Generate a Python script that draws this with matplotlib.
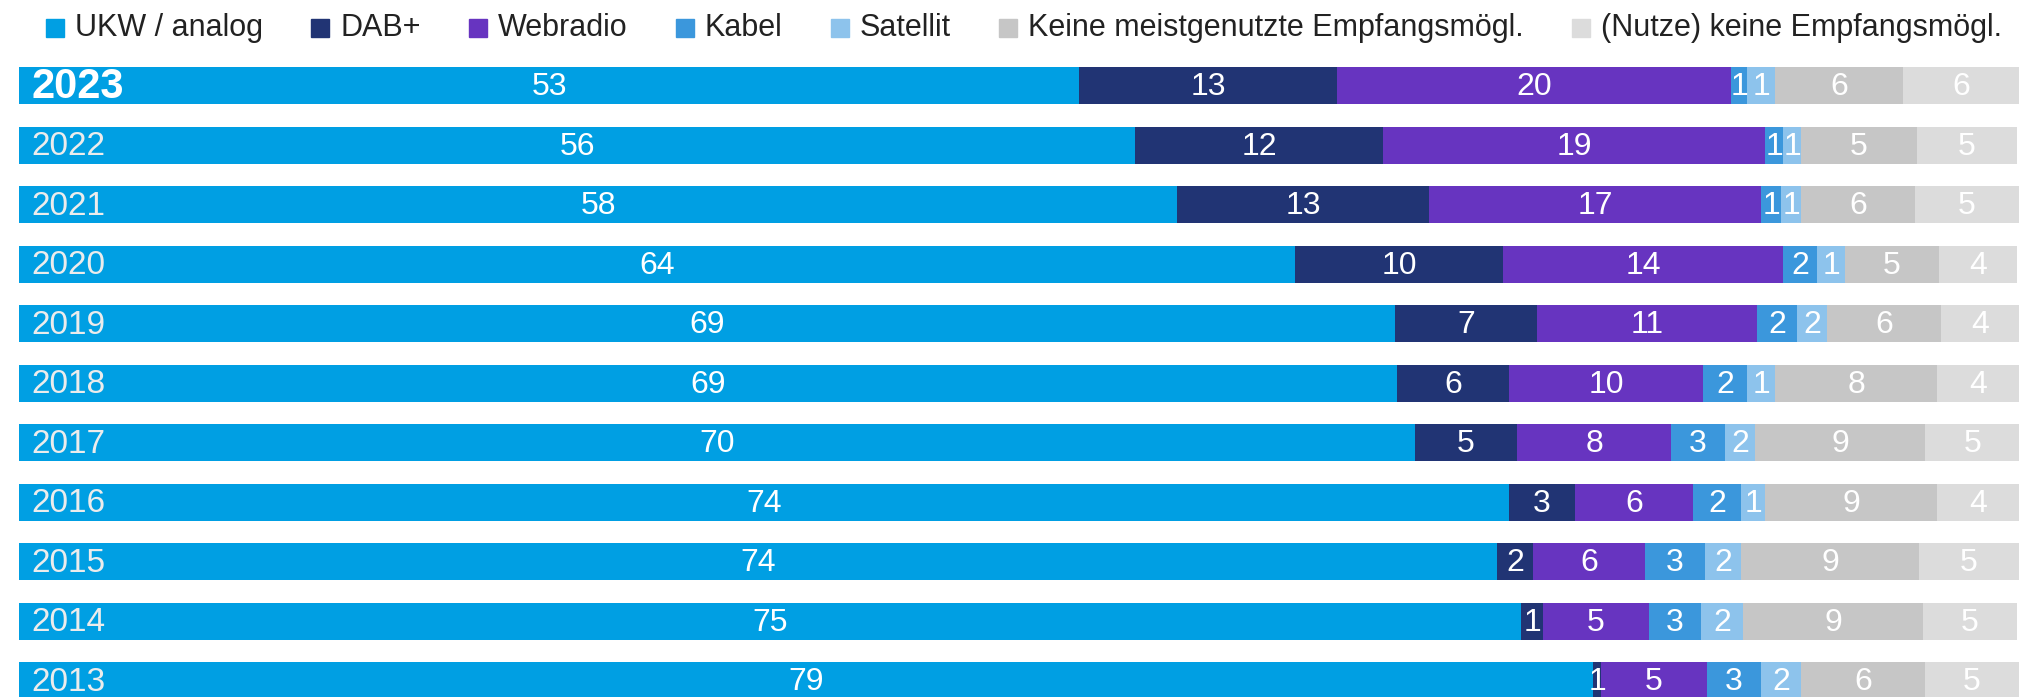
import numpy as np
import matplotlib
matplotlib.use('Agg')
import matplotlib.pyplot as plt
import matplotlib.patches as mpatches

plt.rcParams['font.family'] = ['Liberation Sans', 'DejaVu Sans']

years = ['2023', '2022', '2021', '2020', '2019', '2018', '2017', '2016', '2015', '2014', '2013']
series = ['UKW / analog', 'DAB+', 'Webradio', 'Kabel', 'Satellit',
          'Keine meistgenutzte Empfangsmögl.', '(Nutze) keine Empfangsmögl.']
colors = ['#009fe3', '#213474', '#6734c0', '#3b97dc', '#8dc3ec', '#c6c6c6', '#dcdcdc']

# shares in percent (bar widths)
ukw = [53.0, 55.8, 57.9, 63.8, 68.8, 68.9, 69.8, 74.5, 73.9, 75.1, 78.7]
dab = [12.9, 12.4, 12.6, 10.4, 7.1, 5.6, 5.1, 3.3, 1.8, 1.1, 0.4]
web = [19.7, 19.1, 16.6, 14.0, 11.0, 9.7, 7.7, 5.9, 5.6, 5.3, 5.3]
kabel = [0.8, 0.9, 1.0, 1.7, 2.0, 2.2, 2.7, 2.4, 3.0, 2.6, 2.7]
sat = [1.4, 0.9, 1.0, 1.4, 1.5, 1.4, 1.5, 1.2, 1.8, 2.1, 2.0]
keine = [6.4, 5.8, 5.7, 4.7, 5.7, 8.1, 8.5, 8.6, 8.9, 9.0, 6.2]
nutze = [5.8, 5.0, 5.2, 3.9, 3.9, 4.1, 4.8, 4.1, 5.0, 4.7, 4.7]

# printed (rounded) labels
ukw_lbl = [53, 56, 58, 64, 69, 69, 70, 74, 74, 75, 79]
dab_lbl = [13, 12, 13, 10, 7, 6, 5, 3, 2, 1, 1]
web_lbl = [20, 19, 17, 14, 11, 10, 8, 6, 6, 5, 5]
kabel_lbl = [1, 1, 1, 2, 2, 2, 3, 2, 3, 3, 3]
sat_lbl = [1, 1, 1, 1, 2, 1, 2, 1, 2, 2, 2]
keine_lbl = [6, 5, 6, 5, 6, 8, 9, 9, 9, 9, 6]
nutze_lbl = [6, 5, 5, 4, 4, 4, 5, 4, 5, 5, 5]

values = [ukw, dab, web, kabel, sat, keine, nutze]
labels = [ukw_lbl, dab_lbl, web_lbl, kabel_lbl, sat_lbl, keine_lbl, nutze_lbl]

W, H = 2019, 697
fig = plt.figure(figsize=(W / 100, H / 100), dpi=100)
ax = fig.add_axes([0, 0, 1, 1])

y = np.arange(len(years))
left = np.zeros(len(years))
for vals, lbls, col, name in zip(values, labels, colors, series):
    vals = np.array(vals)
    ax.barh(y, vals, left=left, height=0.62, color=col, label=name)
    for i in range(len(years)):
        ax.text(left[i] + vals[i] / 2, y[i] + 0.03, str(lbls[i]), ha='center', va='center',
                color='white', fontsize=23)
    left = left + vals

for i, yr in enumerate(years):
    if i == 0:
        ax.text(0.6, y[i] + 0.03, yr, ha='left', va='center', color='white',
                fontsize=30, fontweight='bold')
    else:
        ax.text(0.6, y[i] + 0.03, yr, ha='left', va='center', color='#ececec', fontsize=24)

ax.set_xlim(-0.965, 100)
ax.set_ylim(10.275, -1.439)
ax.axis('off')

# legend row laid out by hand: first marker at x0, last marker at x_last, even gaps
renderer = fig.canvas.get_renderer()
sq, pad = 18, 11
leg_y = H - 28
x0, x_last = 46, 1572
texts = [fig.text(0, leg_y / H, name, ha='left', va='center', fontsize=22, color='#222222')
         for name in series]
widths = [t.get_window_extent(renderer).width for t in texts]
gap = (x_last - x0 - sum(sq + pad + w for w in widths[:-1])) / (len(series) - 1)
x = x0
for t, w, col in zip(texts, widths, colors):
    fig.patches.append(mpatches.Rectangle((x / W, (leg_y - sq / 2) / H), sq / W, sq / H,
                                          color=col, transform=fig.transFigure, figure=fig))
    t.set_x((x + sq + pad) / W)
    x = x + sq + pad + w + gap

plt.savefig('out.png', dpi=100)
